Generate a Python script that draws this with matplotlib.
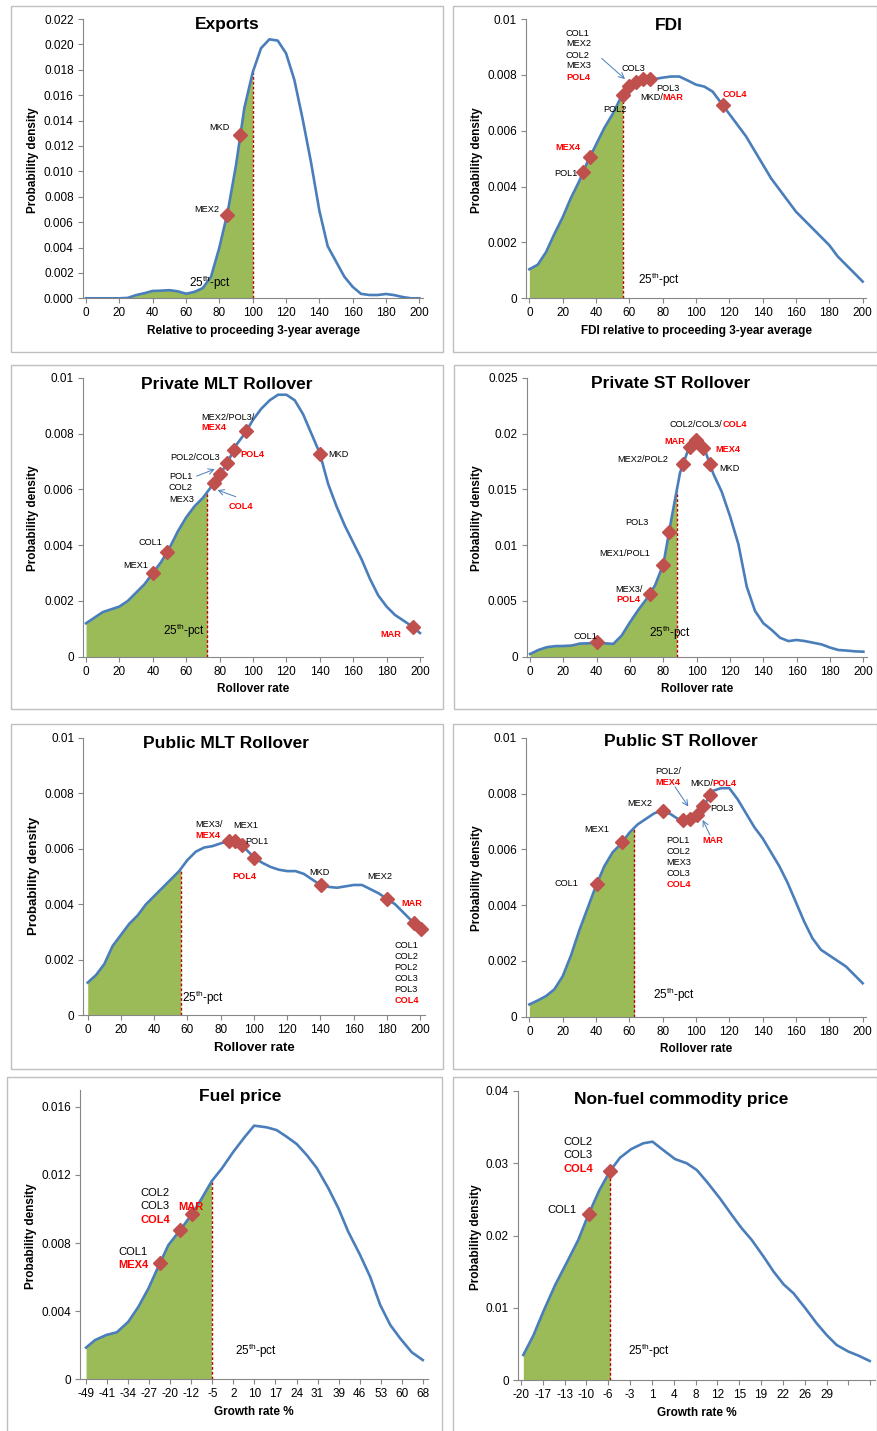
import numpy as np
import matplotlib
matplotlib.use("Agg")
import matplotlib.pyplot as plt
from matplotlib.patches import Rectangle

plt.rcParams['font.family'] = ['Liberation Sans', 'DejaVu Sans']
plt.rcParams['mathtext.fontset'] = 'custom'
plt.rcParams['mathtext.rm'] = 'Liberation Sans'

W, H = 878, 1431

BLUE = '#4A7EBB'
GREEN = '#9BBB59'
MARKER = '#C0504D'
RED = '#FF0000'
CUTLINE = '#C00000'
AXIS_GRAY = '#868686'
BOX_GRAY = '#BFBFBF'

# --- data ---
grid_x = list(range(0, 205, 5))

exports_y = [0, 0, 0, 0, 0, 0.00003, 0.00025, 0.0004, 0.00058, 0.0006, 0.00064,
             0.00055, 0.00036, 0.0005, 0.0008, 0.0017, 0.0040, 0.0068, 0.0105, 0.0150,
             0.0178, 0.0197, 0.0204, 0.0203, 0.0193, 0.0172, 0.0141, 0.0107, 0.0069,
             0.0041, 0.0029, 0.0017, 0.0009, 0.00035, 0.00026, 0.00026, 0.00034,
             0.00025, 0.0001, 0, 0]
fdi_y = [0.00104, 0.0012, 0.00165, 0.0023, 0.0029, 0.0036, 0.0042, 0.0049, 0.0055,
         0.0061, 0.0066, 0.0072, 0.0076, 0.0078, 0.00785, 0.00785, 0.0079, 0.00794,
         0.00794, 0.0078, 0.00765, 0.00758, 0.0074, 0.0070, 0.0066, 0.0062, 0.0058,
         0.0053, 0.0048, 0.0043, 0.0039, 0.0035, 0.0031, 0.0028, 0.0025, 0.0022,
         0.0019, 0.0015, 0.0012, 0.0009, 0.0006]
pmlt_y = [0.0012, 0.0014, 0.0016, 0.0017, 0.0018, 0.0020, 0.0023, 0.0026, 0.0030,
          0.0034, 0.0039, 0.0045, 0.0050, 0.0054, 0.0057, 0.0061, 0.0065, 0.0070,
          0.0076, 0.0080, 0.0085, 0.0089, 0.0092, 0.0094, 0.0094, 0.0092, 0.0087,
          0.0080, 0.0073, 0.0062, 0.0054, 0.0047, 0.0041, 0.0035, 0.0028, 0.0022,
          0.0018, 0.0015, 0.0013, 0.0011, 0.00085]
pst_y = [0.00024, 0.0006, 0.00085, 0.00095, 0.00096, 0.0010, 0.00118, 0.0012, 0.0013,
         0.0012, 0.00115, 0.0019, 0.0031, 0.0042, 0.0052, 0.0064, 0.0083, 0.0125,
         0.0165, 0.0186, 0.0195, 0.0185, 0.0164, 0.0148, 0.0126, 0.0101, 0.0063,
         0.0041, 0.0030, 0.0024, 0.0017, 0.0014, 0.0015, 0.0014, 0.00125, 0.0011,
         0.00082, 0.0006, 0.00055, 0.00048, 0.00045]
pubmlt_y = [0.00118, 0.00145, 0.00185, 0.0025, 0.0029, 0.0033, 0.0036, 0.0040, 0.0043,
            0.0046, 0.0049, 0.0052, 0.0056, 0.0059, 0.00605, 0.0061, 0.0062, 0.00628,
            0.0063, 0.0060, 0.0057, 0.0055, 0.00535, 0.00525, 0.0052, 0.0052, 0.0051,
            0.0049, 0.0047, 0.00463, 0.0046, 0.00465, 0.0047, 0.0047, 0.00455, 0.0044,
            0.0042, 0.0040, 0.0037, 0.0034, 0.0031]
pubst_y = [0.00044, 0.00058, 0.00074, 0.00098, 0.00145, 0.0022, 0.0031, 0.0039, 0.0047,
           0.0054, 0.0059, 0.0062, 0.0066, 0.0069, 0.0071, 0.0073, 0.0074, 0.00726,
           0.00706, 0.00704, 0.0072, 0.0076, 0.0081, 0.0082, 0.0082, 0.0078, 0.0073,
           0.0068, 0.0064, 0.0059, 0.0054, 0.0048, 0.0041, 0.0034, 0.0028, 0.0024,
           0.0022, 0.0020, 0.0018, 0.0015, 0.0012]

fuel_x = [-49, -45.9, -42, -38.3, -34.3, -30.8, -27.3, -23.9, -20.4, -16.3, -12.3,
          -8.8, -5.3, -1.8, 2.2, 6.2, 9.4, 13.8, 17.2, 20.7, 24.2, 27.7, 31.1, 35.2,
          38.7, 42.1, 46.2, 49.7, 53.2, 56.7, 60.1, 64.2, 68]
fuel_y = [0.00186, 0.0023, 0.0026, 0.00276, 0.00338, 0.00426, 0.00534, 0.00661,
          0.00788, 0.00876, 0.00968, 0.01062, 0.01164, 0.01238, 0.01336, 0.01424,
          0.01489, 0.01479, 0.01463, 0.01424, 0.01381, 0.01316, 0.01242, 0.01121,
          0.01003, 0.00866, 0.0073, 0.00602, 0.00436, 0.00319, 0.00241, 0.00158, 0.00113]
fuel_ticklabels = ['-49', '-41', '-34', '-27', '-20', '-12', '-5', '2', '10', '17',
                   '24', '31', '39', '46', '53', '60', '68']

nf_x = [-19.6, -18, -16.4, -14.5, -12.7, -10.8, -9.2, -7.4, -5.7, -4.1, -2.3, -0.4,
        1.1, 2.8, 4.7, 6.6, 8.2, 9.8, 11.9, 14.0, 15.4, 17.0, 18.9, 20.5, 22.1, 23.7,
        25.6, 27.4, 29.0, 30.6, 32.5, 34.1, 35.9]
nf_y = [0.0035, 0.00617, 0.00948, 0.01316, 0.01616, 0.01938, 0.02283, 0.02628,
        0.02891, 0.03075, 0.03194, 0.03273, 0.03296, 0.03181, 0.03056, 0.02997,
        0.02904, 0.02743, 0.02513, 0.0226, 0.02099, 0.01938, 0.01708, 0.01501,
        0.01326, 0.01201, 0.00994, 0.00787, 0.00626, 0.00488, 0.00396, 0.00341, 0.00267]
nf_ticklabels = ['-20', '-17', '-13', '-10', '-6', '-3', '1', '4', '8', '12', '15',
                 '19', '22', '26', '29', '', '']

# 25th percentile cut-offs
cut_exports, cut_fdi, cut_pmlt, cut_pst = 100, 56, 72.5, 88
cut_pubmlt, cut_pubst, cut_fuel, cut_nf = 56, 63, -5.4, -5.7

# country positions (x) on each curve
mk_exports = [84.6, 92.6]
mk_fdi = [32.4, 36.2, 56, 60, 64, 68.4, 72.4, 116]
mk_pmlt = [40.2, 48.6, 76.5, 80.5, 84.5, 88.4, 96, 140.2, 195.6]
mk_pst = [40, 71.9, 79.8, 83.4, 91.8, 96.2, 99.8, 103.8, 107.8]
mk_pubmlt = [84.7, 88.7, 92.7, 100.3, 140.2, 180.3, 196, 200.6]
mk_pubst = [40.4, 55.8, 80.4, 92.4, 96.4, 100.4, 104.4, 108.4]
mk_fuel = [-23.3, -16.2, -12.3]
mk_nf = [-9.1, -5.7]

fig = plt.figure(figsize=(W / 100, H / 100), dpi=100)

# panel frames (pixels: left, top, right, bottom)
for l, t, r, b in [(11, 6, 442.7, 351.7), (453.3, 6, 877, 351.7),
                   (11, 365, 442.7, 709.3), (454, 365, 877, 709.3),
                   (11, 724.3, 442.7, 1069), (453.3, 724.3, 877, 1069),
                   (7.3, 1076.7, 441.7, 1440), (452.7, 1076.7, 877, 1440)]:
    fig.add_artist(Rectangle((l / W, 1 - b / H), (r - l) / W, (b - t) / H,
                             transform=fig.transFigure, fill=False,
                             ec=BOX_GRAY, lw=1.0))


def ftext(px, py, s, **kw):
    fig.text(px / W, 1 - py / H, s, ha='center', va='center', **kw)


def panel(rect, xlim, ylim, yticks, yfmt, xticks, xticklabels, cx, cy, cut, mk_x,
          title, title_xy, xlabel, xlabel_xy, ylabel_xy, lab_size=8.5):
    l, r, t, b = rect
    ax = fig.add_axes([l / W, 1 - b / H, (r - l) / W, (b - t) / H])
    cx = np.asarray(cx, float)
    cy = np.asarray(cy, float)
    cut_y = np.interp(cut, cx, cy)
    m = cx < cut
    ax.fill_between(np.append(cx[m], cut), 0, np.append(cy[m], cut_y),
                    color=GREEN, lw=0, zorder=1)
    ax.plot([cut, cut], [0, cut_y], color=CUTLINE, lw=1.0, ls=(0, (2, 1.5)), zorder=2)
    ax.plot(cx, cy, color=BLUE, lw=1.9, zorder=3, solid_joinstyle='round')
    ax.plot(mk_x, np.interp(mk_x, cx, cy), ls='none', marker='D', ms=7.2,
            color=MARKER, zorder=4, clip_on=False)
    ax.set_xlim(xlim)
    ax.set_ylim(ylim)
    ax.set_yticks(yticks)
    ax.set_yticklabels([yfmt % v for v in yticks])
    ax.set_xticks(xticks)
    ax.set_xticklabels(xticklabels)
    for s in ['top', 'right']:
        ax.spines[s].set_visible(False)
    for s in ['left', 'bottom']:
        ax.spines[s].set_color(AXIS_GRAY)
        ax.spines[s].set_linewidth(0.8)
    ax.tick_params(direction='out', length=3.5, width=0.8, color=AXIS_GRAY,
                   labelsize=8.5, pad=3)
    ax.patch.set_alpha(0)
    ftext(*title_xy, title, fontsize=12.5, fontweight='bold')
    ftext(*xlabel_xy, xlabel, fontsize=lab_size, fontweight='bold')
    ftext(*ylabel_xy, 'Probability density', fontsize=lab_size, fontweight='bold',
          rotation=90)
    return ax


def notes(ax, items, size=6.6):
    for x, y, s, red, ha in items:
        ax.text(x, y, s, fontsize=size, ha=ha, va='center',
                color=RED if red else 'black',
                fontweight='bold' if red else 'normal', zorder=5)


def arrow(ax, start, end):
    ax.annotate('', xy=end, xytext=start,
                arrowprops=dict(arrowstyle='->', color=BLUE, lw=0.7,
                                shrinkA=0, shrinkB=0))


def pct(ax, x, y):
    ax.text(x, y, '25$^{\\mathrm{th}}$-pct', fontsize=8.5, ha='left', va='center', zorder=5)


ticks200 = list(range(0, 201, 20))

# Exports
ax = panel((82.7, 422.7, 19, 298.3), (-2, 202), (0, 0.022),
           [i * 0.002 for i in range(12)], '%.3f', ticks200, ticks200,
           grid_x, exports_y, cut_exports, mk_exports,
           'Exports', (227, 25), 'Relative to proceeding 3-year average',
           (253.3, 331), (33.3, 159.7))
notes(ax, [(86, 0.01345, 'MKD', False, 'right'),
           (80, 0.00696, 'MEX2', False, 'right')])
pct(ax, 62, 0.0012)

# FDI
ax = panel((526, 866, 19, 298.3), (-2, 202), (0, 0.01),
           [i * 0.002 for i in range(6)], '%g', ticks200, ticks200,
           grid_x, fdi_y, cut_fdi, mk_fdi,
           'FDI', (669.3, 25), 'FDI relative to proceeding 3-year average',
           (696.3, 331), (476.7, 160))
notes(ax, [(22, 0.00949, 'COL1', False, 'left'), (22, 0.00913, 'MEX2', False, 'left'),
           (22, 0.00871, 'COL2', False, 'left'), (22, 0.00832, 'MEX3', False, 'left'),
           (22, 0.0079, 'POL4', True, 'left'),
           (55.4, 0.00822, 'COL3', False, 'left'),
           (76.4, 0.00752, 'POL3', False, 'left'),
           (80, 0.00718, 'MKD/', False, 'right'), (80, 0.00718, 'MAR', True, 'left'),
           (44.4, 0.00677, 'POL2', False, 'left'),
           (116, 0.0073, 'COL4', True, 'left'),
           (15.4, 0.0054, 'MEX4', True, 'left'),
           (14.8, 0.00447, 'POL1', False, 'left')])
arrow(ax, (43.4, 0.00859), (57.4, 0.00785))
pct(ax, 65.4, 0.00066)

# Private MLT Rollover
ax = panel((82.7, 423.3, 378, 656.7), (-2, 202), (0, 0.01),
           [i * 0.002 for i in range(6)], '%g', ticks200, ticks200,
           grid_x, pmlt_y, cut_pmlt, mk_pmlt,
           'Private MLT Rollover', (226.3, 384.3), 'Rollover rate',
           (253.3, 689), (33.3, 518))
notes(ax, [(69.1, 0.00859, 'MEX2/POL3/', False, 'left'),
           (69, 0.00822, 'MEX4', True, 'left'),
           (92.4, 0.00727, 'POL4', True, 'left'),
           (80, 0.00715, 'POL2/COL3', False, 'right'),
           (49.6, 0.00646, 'POL1', False, 'left'),
           (49.6, 0.00606, 'COL2', False, 'left'),
           (49.6, 0.00565, 'MEX3', False, 'left'),
           (85.3, 0.00538, 'COL4', True, 'left'),
           (31.3, 0.00409, 'COL1', False, 'left'),
           (22.3, 0.00327, 'MEX1', False, 'left'),
           (144.8, 0.00726, 'MKD', False, 'left'),
           (176, 0.0008, 'MAR', True, 'left')])
arrow(ax, (66.2, 0.00648), (77.1, 0.00673))
arrow(ax, (89.7, 0.00574), (78.7, 0.00598))
pct(ax, 46, 0.00092)

# Private ST Rollover
ax = panel((526.7, 866.7, 378, 656.7), (-2, 202), (0, 0.025),
           [i * 0.005 for i in range(6)], '%g', ticks200, ticks200,
           grid_x, pst_y, cut_pst, mk_pst,
           'Private ST Rollover', (670.5, 384), 'Rollover rate',
           (697.3, 689), (477.3, 518.5))
notes(ax, [(115.4, 0.0208, 'COL2/COL3/', False, 'right'),
           (115.4, 0.0208, 'COL4', True, 'left'),
           (93.4, 0.0193, 'MAR', True, 'right'),
           (111.4, 0.0186, 'MEX4', True, 'left'),
           (83, 0.0177, 'MEX2/POL2', False, 'right'),
           (113.4, 0.0169, 'MKD', False, 'left'),
           (70.9, 0.012, 'POL3', False, 'right'),
           (72.3, 0.0093, 'MEX1/POL1', False, 'right'),
           (67.3, 0.0060, 'MEX3/', False, 'right'),
           (66.3, 0.0051, 'POL4', True, 'right'),
           (26.3, 0.0018, 'COL1', False, 'left')])
pct(ax, 71.5, 0.0021)

# Public MLT Rollover
ax = panel((83.3, 425, 738, 1015.3), (-2.65, 202.9), (0, 0.01),
           [i * 0.002 for i in range(6)], '%g', ticks200, ticks200,
           grid_x, pubmlt_y, cut_pubmlt, mk_pubmlt,
           'Public MLT Rollover', (226.2, 744), 'Rollover rate',
           (254, 1048.3), (34.3, 876.3), lab_size=9.5)
notes(ax, [(64.6, 0.00689, 'MEX3/', False, 'left'),
           (64.6, 0.0065, 'MEX4', True, 'left'),
           (87.3, 0.00684, 'MEX1', False, 'left'),
           (95, 0.00626, 'POL1', False, 'left'),
           (87, 0.0050, 'POL4', True, 'left'),
           (133.4, 0.00514, 'MKD', False, 'left'),
           (168.3, 0.00502, 'MEX2', False, 'left'),
           (188.4, 0.00404, 'MAR', True, 'left'),
           (184.5, 0.00252, 'COL1', False, 'left'),
           (184.5, 0.00213, 'COL2', False, 'left'),
           (184.5, 0.00173, 'POL2', False, 'left'),
           (184.5, 0.00133, 'COL3', False, 'left'),
           (184.5, 0.00094, 'POL3', False, 'left'),
           (184.5, 0.00053, 'COL4', True, 'left')])
pct(ax, 57, 0.00064)

# Public ST Rollover
ax = panel((526, 866, 738, 1016.7), (-2, 202), (0, 0.01),
           [i * 0.002 for i in range(6)], '%g', ticks200, ticks200,
           grid_x, pubst_y, cut_pubst, mk_pubst,
           'Public ST Rollover', (680.8, 741.3), 'Rollover rate',
           (696.3, 1049), (477.3, 878.3))
notes(ax, [(75.4, 0.00879, 'POL2/', False, 'left'),
           (75.4, 0.00841, 'MEX4', True, 'left'),
           (110, 0.00837, 'MKD/', False, 'right'),
           (110, 0.00837, 'POL4', True, 'left'),
           (73.8, 0.00766, 'MEX2', False, 'right'),
           (108.4, 0.00748, 'POL3', False, 'left'),
           (33, 0.00672, 'MEX1', False, 'left'),
           (82.4, 0.00632, 'POL1', False, 'left'),
           (82.4, 0.00594, 'COL2', False, 'left'),
           (82.4, 0.00553, 'MEX3', False, 'left'),
           (82.4, 0.00513, 'COL3', False, 'left'),
           (82.4, 0.00475, 'COL4', True, 'left'),
           (103.8, 0.00632, 'MAR', True, 'left'),
           (29.4, 0.00478, 'COL1', False, 'right')])
arrow(ax, (87.4, 0.00825), (95.4, 0.00754))
arrow(ax, (108.4, 0.00652), (104, 0.00706))
pct(ax, 74.4, 0.00077)

# Fuel price
ax = panel((80, 427.7, 1089.7, 1379.3), (-51.1, 69.7), (0, 0.017),
           [i * 0.004 for i in range(5)], '%g', np.linspace(-49, 68, 17), fuel_ticklabels,
           fuel_x, fuel_y, cut_fuel, mk_fuel,
           'Fuel price', (239.7, 1096.3), 'Growth rate %',
           (254, 1412.3), (30.7, 1235.8))
notes(ax, [(-30.2, 0.01095, 'COL2', False, 'left'),
           (-30.2, 0.01017, 'COL3', False, 'left'),
           (-30.2, 0.00935, 'COL4', True, 'left'),
           (-16.9, 0.01013, 'MAR', True, 'left'),
           (-37.8, 0.00749, 'COL1', False, 'left'),
           (-37.8, 0.00671, 'MEX4', True, 'left')], size=8)
pct(ax, 2.8, 0.00166)

# Non-fuel commodity price
ax = panel((517.7, 875, 1090.7, 1380.3), (-20.5, 36.75), (0, 0.04),
           [i * 0.01 for i in range(5)], '%g', np.linspace(-20, 36, 17), nf_ticklabels,
           nf_x, nf_y, cut_nf, mk_nf,
           'Non-fuel commodity price', (681.3, 1099.3), 'Growth rate %',
           (697.2, 1413.3), (476, 1237.2))
notes(ax, [(-13.2, 0.03287, 'COL2', False, 'left'),
           (-13.2, 0.03112, 'COL3', False, 'left'),
           (-13.2, 0.02914, 'COL4', True, 'left'),
           (-11, 0.02352, 'COL1', False, 'right')], size=8)
pct(ax, -2.8, 0.00405)

fig.savefig('out.png', dpi=100)
